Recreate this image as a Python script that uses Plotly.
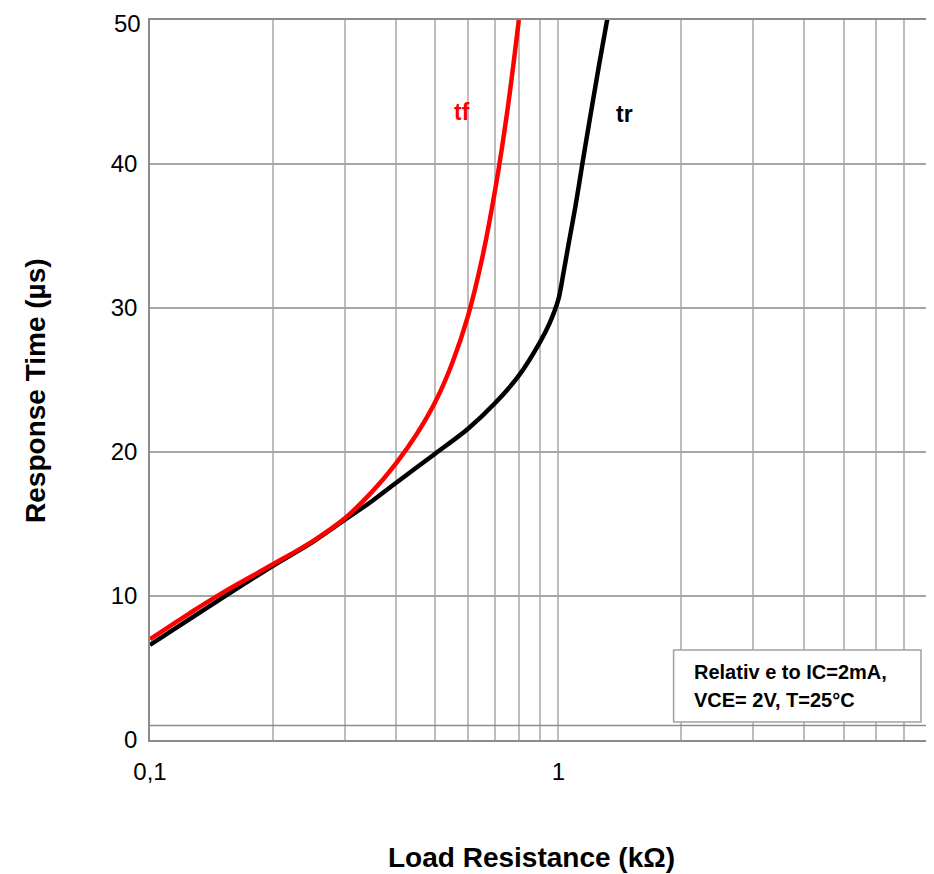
import plotly.graph_objects as go

# Data
tr_x = [0.1, 0.125, 0.15, 0.2, 0.25, 0.3, 0.35, 0.4, 0.5, 0.6, 0.7, 0.8, 0.9, 0.95, 1.0, 1.03, 1.06, 1.1, 1.143, 1.2, 1.26, 1.32]
tr_y = [6.6, 8.4, 9.85, 12.1, 13.75, 15.3, 16.6, 17.85, 19.9, 21.6, 23.4, 25.3, 27.6, 28.9, 30.6, 32.5, 34.5, 37.0, 39.9, 43.5, 47.0, 50.2]

tf_x = [0.1, 0.125, 0.15, 0.2, 0.25, 0.3, 0.35, 0.4, 0.45, 0.5, 0.55, 0.6, 0.65, 0.7, 0.75, 0.8]
tf_y = [7.0, 8.8, 10.2, 12.2, 13.8, 15.4, 17.25, 19.2, 21.25, 23.5, 26.2, 29.4, 33.4, 38.2, 43.7, 50.0]

grid_x = [0.1, 0.2, 0.3, 0.4, 0.5, 0.6, 0.7, 0.8, 0.9, 1, 2, 3, 4, 5, 6, 7, 8]
grid_x_text = ["0,1", "", "", "", "", "", "", "", "", "1", "", "", "", "", "", "", ""]
y_ticks = [0, 10, 20, 30, 40, 50]
y_tick_text = ["0", "10", "20", "30", "40", ""]
y_top_label = "50"

FONT = "Liberation Sans, Arial, sans-serif"

fig = go.Figure()
fig.add_trace(go.Scatter(x=tr_x, y=tr_y, mode="lines", name="tr",
                         line=dict(color="black", width=4.5, shape="spline", smoothing=0.8),
                         showlegend=False, cliponaxis=True))
fig.add_trace(go.Scatter(x=tf_x, y=tf_y, mode="lines", name="tf",
                         line=dict(color="#ff0000", width=4.5, shape="spline", smoothing=1.0),
                         showlegend=False, cliponaxis=True))

fig.update_layout(
    width=934, height=874,
    paper_bgcolor="white", plot_bgcolor="white",
    margin=dict(l=142, r=14, t=12, b=142, autoexpand=False),
    font=dict(family=FONT, color="black"),
    xaxis=dict(
        type="log", range=[-1, 0.905],
        tickvals=grid_x, ticktext=grid_x_text,
        showgrid=True, gridcolor="#bdbdbd", gridwidth=1.5,
        showline=True, mirror=True, linecolor="#8c8c8c", linewidth=1.5,
        ticks="", tickfont=dict(size=24, family=FONT), ticklabelstandoff=9,
        ticklabeloverflow="allow", automargin=False,
        zeroline=False,
    ),
    yaxis=dict(
        range=[0, 50], tickvals=y_ticks, ticktext=y_tick_text,
        showgrid=True, gridcolor="#a6a6a6", gridwidth=1.5,
        showline=True, mirror=True, linecolor="#8c8c8c", linewidth=1.5,
        ticks="", tickfont=dict(size=24, family=FONT), ticklabelstandoff=6,
        ticklabeloverflow="allow", automargin=False,
        zeroline=False,
    ),
)

# top y tick label placed as an annotation so it stays inside the page
fig.add_annotation(xref="paper", yref="y", x=-0.0095, y=y_ticks[-1] - 0.25,
                   xanchor="right", yanchor="middle", text=y_top_label, showarrow=False,
                   font=dict(size=24, family=FONT))

# axis titles
fig.add_annotation(xref="paper", yref="paper", x=-0.148, y=0.486, textangle=-90,
                   text="<b>Response Time (µs)</b>", showarrow=False,
                   xanchor="center", yanchor="middle",
                   font=dict(size=28, family=FONT))
fig.add_annotation(xref="paper", yref="paper", x=0.491, y=-0.1625,
                   text="<b>Load Resistance (kΩ)</b>", showarrow=False,
                   xanchor="center", yanchor="middle",
                   font=dict(size=28, family=FONT))

# darker horizontal axis line near y=1
fig.add_shape(type="line", xref="paper", yref="y", x0=0, x1=1, y0=1, y1=1,
              line=dict(color="#8c8c8c", width=1.5))

# curve labels
fig.add_annotation(x=-0.235, y=43.6, xref="x", yref="y", text="<b>tf</b>", showarrow=False,
                   font=dict(size=23, color="#ff0000", family=FONT))
fig.add_annotation(x=0.162, y=43.5, xref="x", yref="y", text="<b>tr</b>", showarrow=False,
                   font=dict(size=23, color="black", family=FONT))

# note box
fig.add_shape(type="rect", xref="paper", yref="paper", x0=0.673, x1=0.991, y0=0.025, y1=0.125,
              line=dict(color="#a0a0a0", width=1.5), fillcolor="white")
fig.add_annotation(xref="paper", yref="paper", x=0.697, y=0.095, xanchor="left", yanchor="middle",
                   text="<b>Relativ e to IC=2mA,</b>", showarrow=False,
                   font=dict(size=20, family=FONT))
fig.add_annotation(xref="paper", yref="paper", x=0.697, y=0.055, xanchor="left", yanchor="middle",
                   text="<b>VCE= 2V, T=25°C</b>", showarrow=False,
                   font=dict(size=20, family=FONT))

fig.write_html("out.html")
